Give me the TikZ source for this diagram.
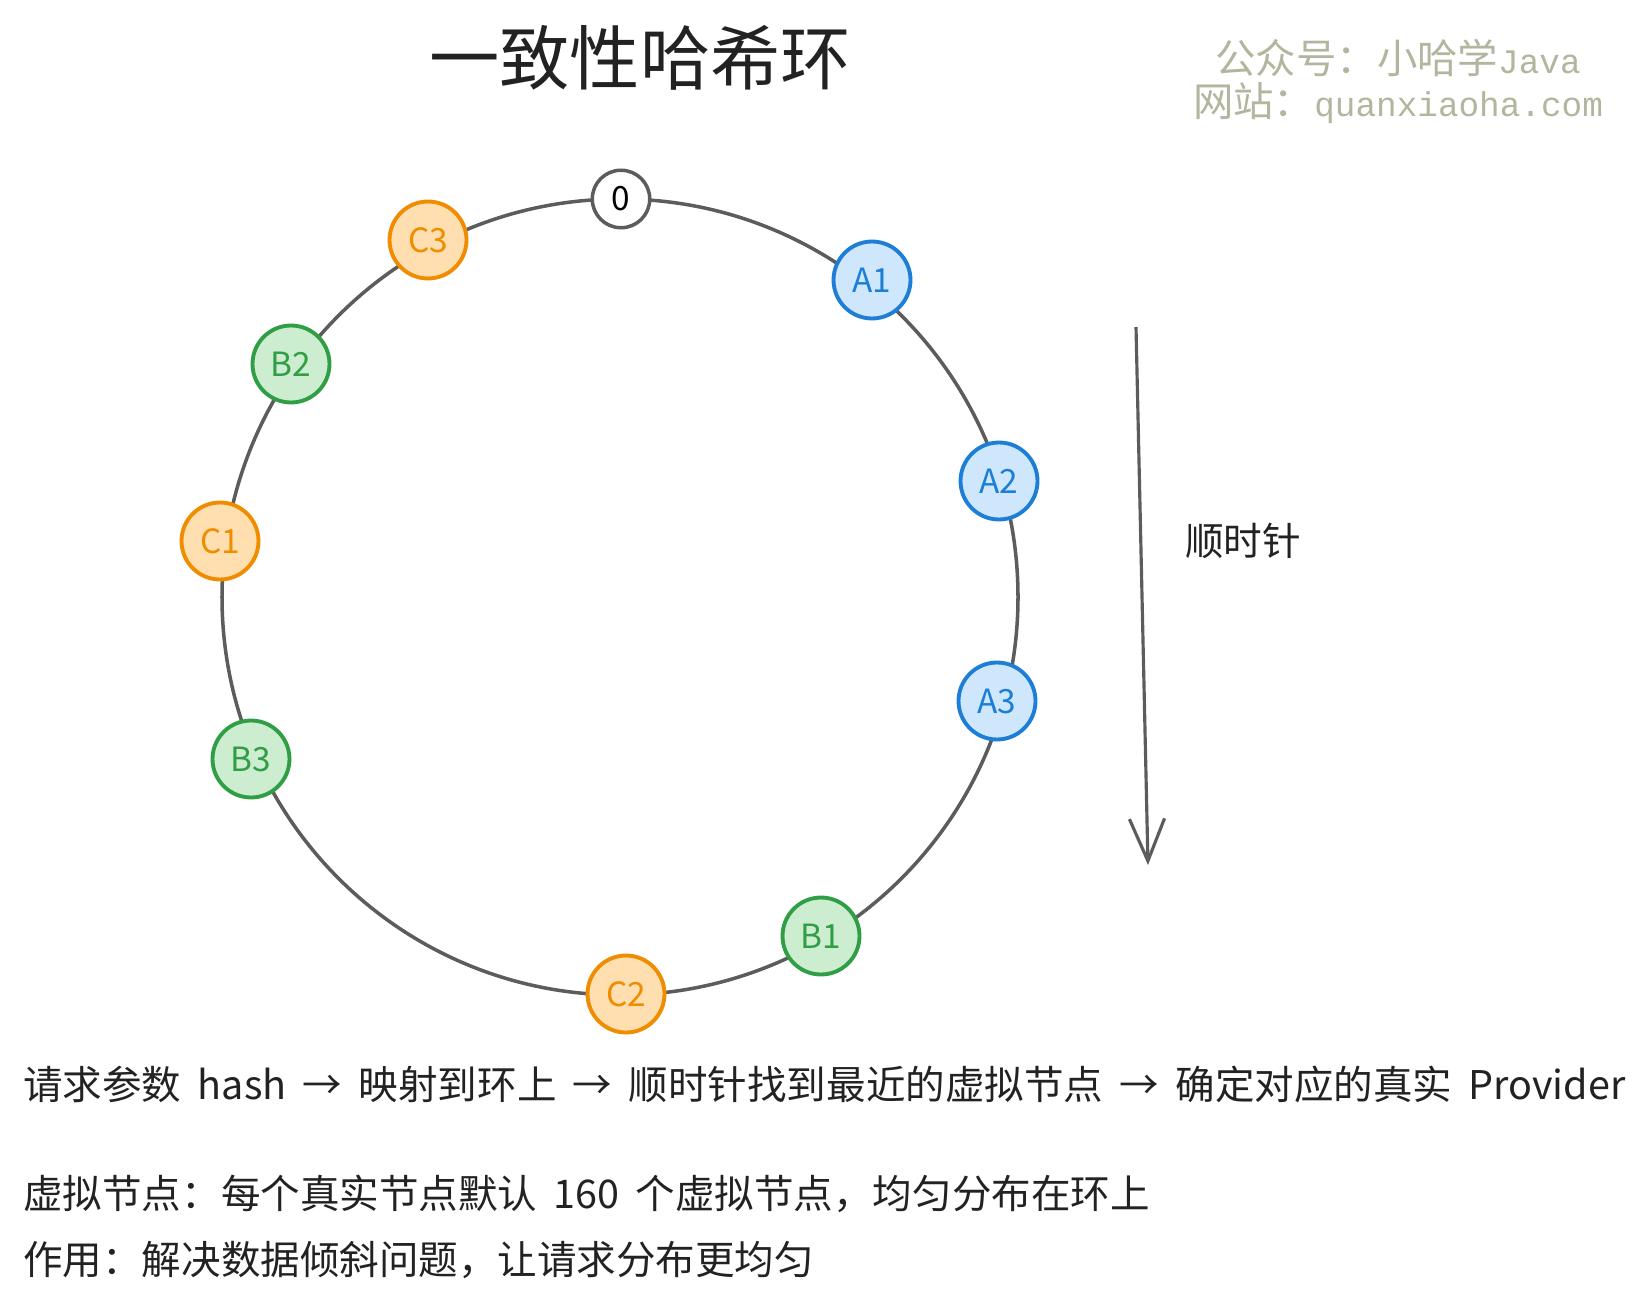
\documentclass[tikz,border=0pt]{standalone}
\usepackage{fontspec}
\setmainfont[WordSpace=1.85]{Noto Sans CJK SC}
\newfontfamily\wmmono[Scale=0.85]{Liberation Mono}
\usetikzlibrary{arrows.meta}

\definecolor{ringgray}{RGB}{92,92,92}
\definecolor{ablue}{RGB}{28,126,214}
\definecolor{afill}{RGB}{206,231,252}
\definecolor{bgreen}{RGB}{47,158,68}
\definecolor{bfill}{RGB}{204,237,208}
\definecolor{corange}{RGB}{240,140,0}
\definecolor{cfill}{RGB}{255,222,176}
\definecolor{wmgray}{RGB}{178,182,158}
\definecolor{inkgray}{RGB}{34,34,34}

\tikzset{
	vnode/.style={circle, line width=2.2pt, minimum size=1.54cm, inner sep=0pt, font=\fontsize{19}{19}\selectfont},
	anode/.style={vnode, draw=ablue, fill=afill, text=ablue},
	bnode/.style={vnode, draw=bgreen, fill=bfill, text=bgreen},
	cnode/.style={vnode, draw=corange, fill=cfill, text=corange},
	zeronode/.style={circle, line width=2pt, draw=ringgray, fill=white, minimum size=1.15cm, inner sep=0pt, font=\fontsize{19}{19}\selectfont},
	note/.style={anchor=west, inner sep=0pt, text=inkgray, font=\fontsize{22.5}{24}\selectfont}
}

\begin{document}
\begin{tikzpicture}[x=0.02cm, y=-0.02cm]
	\useasboundingbox (0,0) rectangle (1642,1307);
	\def\r{398};
	\coordinate (C) at (620,597);
	\draw[line width=2pt, ringgray] (C) circle (\r);

	% nodes on the ring
	\node[zeronode] (Z) at (621,199) {0};
	\node[anode] (A1) at (872,280) {A1};
	\node[anode] (A2) at (999,481) {A2};
	\node[anode] (A3) at (997,701) {A3};
	\node[bnode] (B1) at (821,936) {B1};
	\node[cnode] (C2) at (626,994) {C2};
	\node[bnode] (B3) at (251,759) {B3};
	\node[cnode] (C1) at (220,541) {C1};
	\node[bnode] (B2) at (291,364) {B2};
	\node[cnode] (C3) at (428,240) {C3};

	% title and watermark
	\node[text=inkgray, font=\fontsize{40}{40}\selectfont] (title) at (640,58) {一致性哈希环};
	\node[text=wmgray, align=center, font=\fontsize{23}{24.5}\selectfont] (wm) at (1398,81)
		{公众号：小哈学{\wmmono Java}\\网站：{\wmmono quanxiaoha.com}};

	% clockwise arrow
	\coordinate (arrtop) at (1136,327);
	\coordinate (arrbot) at (1148,865);
	\draw[line width=1.8pt, ringgray, -{Straight Barb[length=24pt, width=20pt]}] (arrtop) -- (arrbot);
	\node[text=inkgray, font=\fontsize{22}{22}\selectfont] (cw) at (1243,541) {顺时针};

	% notes
	\node[note] (flow) at (23,1084) {请求参数 hash → 映射到环上 → 顺时针找到最近的虚拟节点 → 确定对应的真实 Provider};
	\node[note] (virt) at (23,1194) {虚拟节点：每个真实节点默认 160 个虚拟节点，均匀分布在环上};
	\node[note] (use) at (23,1260) {作用：解决数据倾斜问题，让请求分布更均匀};
\end{tikzpicture}
\end{document}
